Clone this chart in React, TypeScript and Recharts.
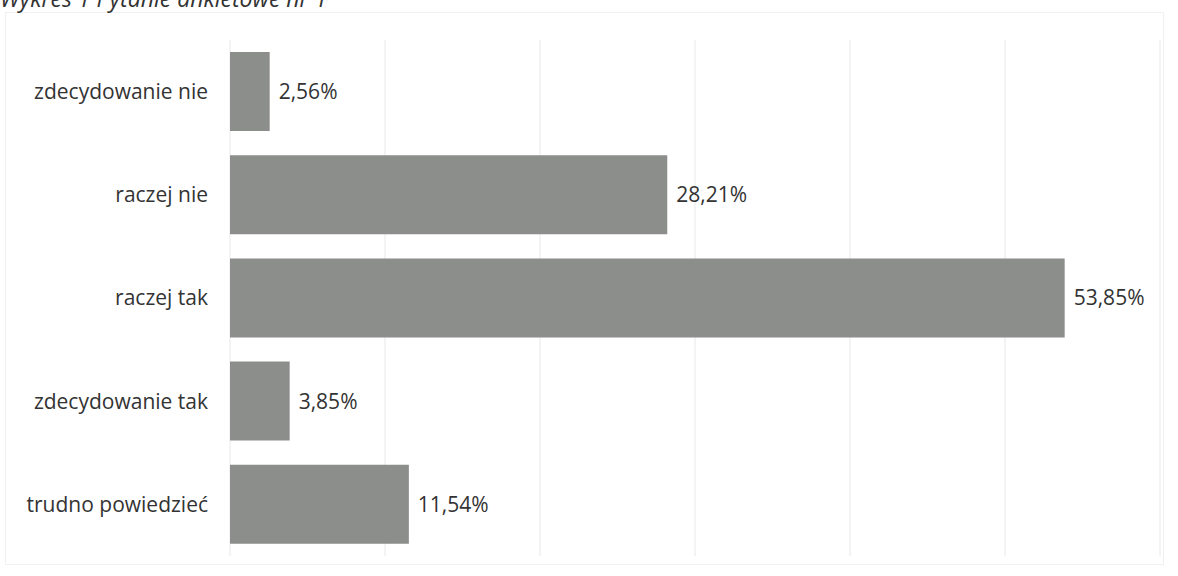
import React from 'react';
import { BarChart, Bar, XAxis, YAxis, CartesianGrid, LabelList } from 'recharts';

const categories = ['zdecydowanie nie', 'raczej nie', 'raczej tak', 'zdecydowanie tak', 'trudno powiedzieć'];
const values = [2.56, 28.21, 53.85, 3.85, 11.54];
const xTicks = [0, 10, 20, 30, 40, 50, 60];
const title = 'Wykres 1 Pytanie ankietowe nr 1';

const data = categories.map((c, i) => ({ name: c, value: values[i] }));

const FONT = '"Open Sans", sans-serif';

const fmt = (v: any) => Number(v).toFixed(2).replace('.', ',') + '%';

export default function App() {
  return (
    <div style={{ position: 'absolute', left: 0, top: 0, width: 1178, height: 576, background: '#fff', overflow: 'hidden' }}>
      <div style={{ position: 'absolute', left: 5, top: 12, width: 1159, height: 553, border: '1px solid #f0f0f0', boxSizing: 'border-box' }} />
      <div style={{ position: 'absolute', left: 0, top: -17, fontFamily: FONT, fontStyle: 'italic', fontSize: 23, color: '#333', whiteSpace: 'nowrap', lineHeight: '30px' }}>
        {title}
      </div>
      <div style={{ position: 'absolute', left: 0, top: 0 }}>
        <BarChart
          width={1178}
          height={576}
          data={data}
          layout="vertical"
          margin={{ top: 40, right: 18, bottom: 20, left: 10 }}
        >
          <CartesianGrid horizontal={false} vertical={true} stroke="#e8e8e8" />
          <XAxis type="number" domain={[0, 60]} ticks={xTicks} hide />
          <YAxis
            type="category"
            dataKey="name"
            width={220}
            axisLine={false}
            tickLine={false}
            tickSize={0}
            tickMargin={22}
            tick={{ fontFamily: FONT, fontSize: 21, fill: '#333' }}
          />
          <Bar dataKey="value" fill="#8c8e8b" barSize={79} isAnimationActive={false}>
            <LabelList
              dataKey="value"
              position="right"
              offset={9}
              formatter={fmt}
              style={{ fontFamily: FONT, fontSize: 21, fill: '#333' }}
            />
          </Bar>
        </BarChart>
      </div>
    </div>
  );
}
